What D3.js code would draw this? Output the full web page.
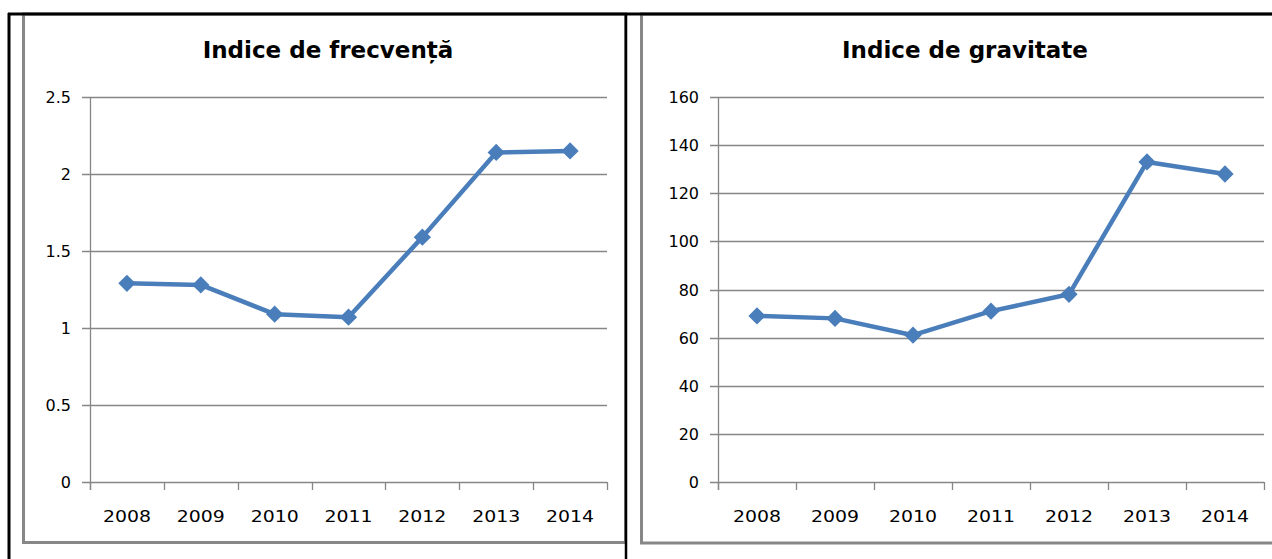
<!DOCTYPE html>
<html>
<head>
<meta charset="utf-8">
<script src="https://cdn.jsdelivr.net/npm/d3@7"></script>
<style>
  body { margin: 0; background: #fff; }
  svg text { font-family: 'DejaVu Sans', sans-serif; }
  .tick-label { font-size: 16px; fill: #000; }
  .title { font-size: 23px; font-weight: bold; fill: #000; }
</style>
</head>
<body>
<svg id="chart" width="1272" height="559"></svg>
<script>
const years = ['2008', '2009', '2010', '2011', '2012', '2013', '2014']
const frecventa = [1.29, 1.28, 1.09, 1.07, 1.59, 2.14, 2.15]
const gravitate = [69, 68, 61, 71, 78, 133, 128]
const frecventaTicks = [0, 0.5, 1, 1.5, 2, 2.5]
const gravitateTicks = [0, 20, 40, 60, 80, 100, 120, 140, 160]

const svg = d3.select('#chart')

// panel frames (gray), partly covered by the black page borders
svg.append('rect').attr('x', 23.5).attr('y', 14).attr('width', 602).attr('height', 528.5)
    .attr('fill', 'none').attr('stroke', '#878787').attr('stroke-width', 3)
svg.append('rect').attr('x', 641.5).attr('y', 14).attr('width', 640).attr('height', 529)
    .attr('fill', 'none').attr('stroke', '#878787').attr('stroke-width', 3)
svg.append('line').attr('x1', 8).attr('x2', 1272).attr('y1', 14).attr('y2', 14)
    .attr('stroke', '#000').attr('stroke-width', 3)
svg.append('line').attr('x1', 9).attr('x2', 9).attr('y1', 13).attr('y2', 559)
    .attr('stroke', '#000').attr('stroke-width', 3)
svg.append('line').attr('x1', 626).attr('x2', 626).attr('y1', 13).attr('y2', 559)
    .attr('stroke', '#000').attr('stroke-width', 2.5)

drawPanel({
    title: 'Indice de frecvență', titleX: 328,
    values: frecventa, ticks: frecventaTicks, max: 2.5,
    left: 90, right: 607
})
drawPanel({
    title: 'Indice de gravitate', titleX: 965,
    values: gravitate, ticks: gravitateTicks, max: 160,
    left: 718, right: 1264
})

function drawPanel(opt) {
    const top = 97, bottom = 482
    const g = svg.append('g')

    const xScale = d3.scaleBand().domain(years).range([opt.left, opt.right])
    const yScale = d3.scaleLinear().domain([0, opt.max]).range([bottom, top])

    g.append('text').attr('class', 'title')
        .attr('x', opt.titleX).attr('y', 58)
        .attr('text-anchor', 'middle')
        .text(opt.title)

    // gridlines
    g.selectAll('.grid').data(opt.ticks).join('line')
        .attr('x1', opt.left - 8).attr('x2', opt.right)
        .attr('y1', d => Math.round(yScale(d)) + .5)
        .attr('y2', d => Math.round(yScale(d)) + .5)
        .attr('stroke', '#868686').attr('stroke-width', 1.3)
    g.selectAll('.ylab').data(opt.ticks).join('text')
        .attr('class', 'tick-label')
        .attr('x', opt.left - 19).attr('y', d => yScale(d) + 6)
        .attr('text-anchor', 'end')
        .text(d => d)

    // y axis
    g.append('line').attr('x1', opt.left + .5).attr('x2', opt.left + .5)
        .attr('y1', top).attr('y2', bottom + 8)
        .attr('stroke', '#868686').attr('stroke-width', 1.3)

    // x ticks at band edges
    const edges = years.map(d => xScale(d)).concat([opt.right])
    g.selectAll('.xtick').data(edges).join('line')
        .attr('x1', d => Math.round(d) + .5).attr('x2', d => Math.round(d) + .5)
        .attr('y1', bottom).attr('y2', bottom + 8)
        .attr('stroke', '#868686').attr('stroke-width', 1.3)
    g.selectAll('.xlab').data(years).join('text')
        .attr('class', 'tick-label')
        .attr('x', d => xScale(d) + xScale.bandwidth() / 2)
        .attr('y', bottom + 40)
        .attr('text-anchor', 'middle')
        .attr('textLength', 48).attr('lengthAdjust', 'spacingAndGlyphs')
        .text(d => d)

    const pts = years.map((d, i) => [xScale(d) + xScale.bandwidth() / 2, yScale(opt.values[i])])
    g.append('path').attr('d', d3.line()(pts))
        .attr('fill', 'none').attr('stroke', '#4a7ebb')
        .attr('stroke-width', 4.5).attr('stroke-linejoin', 'round')
    g.selectAll('.marker').data(pts).join('path')
        .attr('d', d3.symbol(d3.symbolDiamond2, 190))
        .attr('transform', d => `translate(${d[0]},${d[1]})`)
        .attr('fill', '#4a7ebb')
}
</script>
</body>
</html>
